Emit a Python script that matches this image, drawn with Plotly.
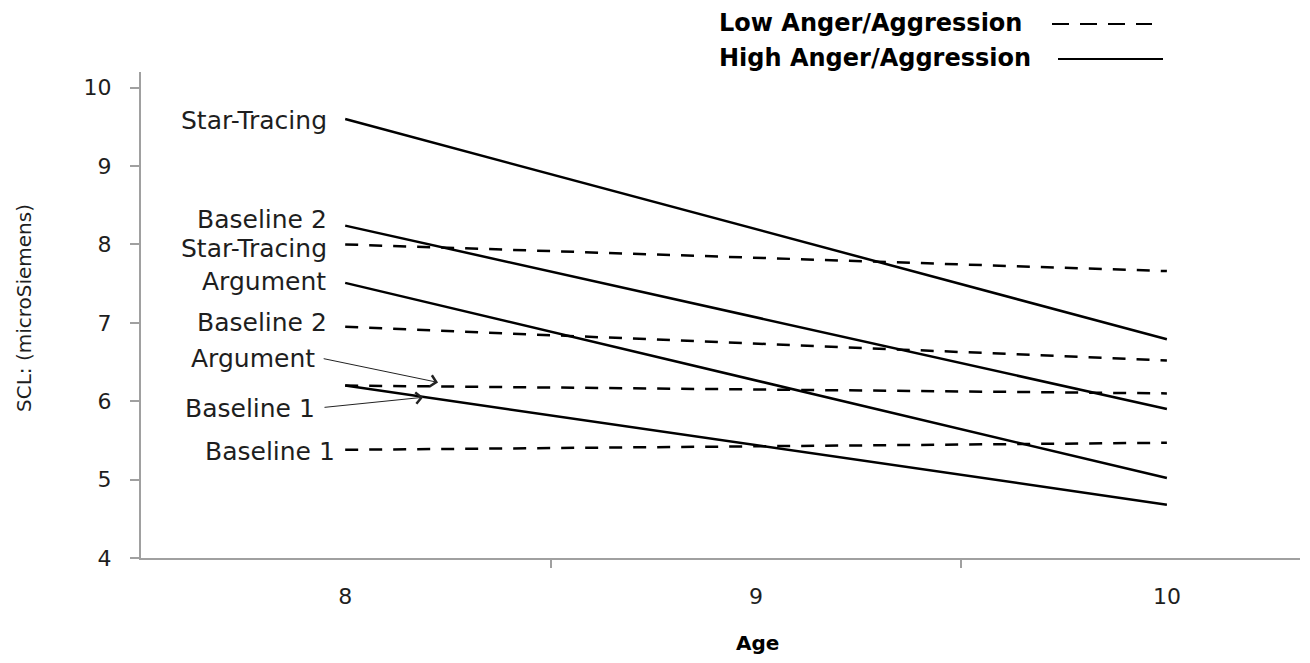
import plotly.graph_objects as go

# ---- data ----
ages = [8, 10]
conditions = ["Star-Tracing", "Baseline 2", "Argument", "Baseline 1"]
high_values = {
    "Star-Tracing": [9.60, 6.79],
    "Baseline 2": [8.24, 5.90],
    "Argument": [7.51, 5.02],
    "Baseline 1": [6.20, 4.68],
}
low_values = {
    "Star-Tracing": [8.00, 7.66],
    "Baseline 2": [6.95, 6.52],
    "Argument": [6.20, 6.10],
    "Baseline 1": [5.38, 5.47],
}
x_ticks = [8, 9, 10]
y_ticks = [4, 5, 6, 7, 8, 9, 10]

FONT = "DejaVu Sans"
TXT = "#1e1e1e"
AX = "#a0a0a0"
FS = 25

# figure is placed at (8, 8) on the page (body margin)
OFF = 8
W, H = 1294, 647
ML, MR, MT, MB = 133, 2, 64, 97


def px_to_paper(sx, sy):
    fx, fy = sx - OFF, sy - OFF
    return (fx - ML) / (W - ML - MR), (H - fy - MB) / (H - MT - MB)


fig = go.Figure()
for c in conditions:
    fig.add_trace(go.Scatter(x=ages, y=high_values[c], mode="lines",
                             line=dict(color="black", width=2.5),
                             name="High " + c, showlegend=False))
for c in conditions:
    fig.add_trace(go.Scatter(x=ages, y=low_values[c], mode="lines",
                             line=dict(color="black", width=2.5, dash="13px,11px"),
                             name="Low " + c, showlegend=False))

# line labels
labels = [
    ("Star-Tracing", 7.961, 9.585),
    ("Baseline 2", 7.961, 8.32),
    ("Star-Tracing", 7.961, 7.95),
    ("Argument", 7.957, 7.53),
    ("Baseline 2", 7.961, 7.00),
    ("Argument", 7.932, 6.54),
    ("Baseline 1", 7.932, 5.91),
    ("Baseline 1", 7.980, 5.36),
]
for t, x, y in labels:
    fig.add_annotation(x=x, y=y, text=t, showarrow=False, xanchor="right",
                       yanchor="middle", font=dict(family=FONT, size=FS, color=TXT))

# arrows
for (hx, hy, tx, ty) in [(8.226, 6.24, 7.944, 6.547), (8.19, 6.05, 7.946, 5.92)]:
    fig.add_annotation(x=hx, y=hy, ax=tx, ay=ty, axref="x", ayref="y", text="",
                       showarrow=True, arrowhead=4, arrowsize=2.2, arrowwidth=1,
                       arrowcolor="#222")

# legend (text followed by line sample)
for txt, sy in [("Low Anger/Aggression", 23), ("High Anger/Aggression", 58)]:
    px, py = px_to_paper(717, sy)
    fig.add_annotation(x=px, y=py, xref="paper", yref="paper", text="<b>" + txt + "</b>",
                       showarrow=False, xanchor="left", yanchor="middle",
                       font=dict(family=FONT, size=24, color="black"))

x0, y0 = px_to_paper(1052, 24)
x1, _ = px_to_paper(1152, 24)
fig.add_shape(type="line", xref="paper", yref="paper", x0=x0, x1=x1, y0=y0, y1=y0,
              line=dict(color="black", width=2, dash="17px,11px"))
x0, y0 = px_to_paper(1058, 59)
x1, _ = px_to_paper(1163, 59)
fig.add_shape(type="line", xref="paper", yref="paper", x0=x0, x1=x1, y0=y0, y1=y0,
              line=dict(color="black", width=2))

# axis titles
px, py = px_to_paper(757, 643)
fig.add_annotation(x=px, y=py, xref="paper", yref="paper", text="<b>Age</b>", showarrow=False,
                   xanchor="center", yanchor="middle", font=dict(family=FONT, size=20, color="black"))
px, py = px_to_paper(24, 308)
fig.add_annotation(x=px, y=py, xref="paper", yref="paper", text="SCL: (microSiemens)",
                   textangle=-90, showarrow=False, xanchor="center", yanchor="middle",
                   font=dict(family=FONT, size=20, color=TXT))

fig.update_layout(
    width=W, height=H,
    margin=dict(l=ML, r=MR, t=MT, b=MB),
    plot_bgcolor="white", paper_bgcolor="white",
    font=dict(family=FONT, size=FS, color=TXT),
    xaxis=dict(range=[7.503, 10.324], tickvals=x_ticks, ticktext=[str(v) for v in x_ticks],
               showgrid=False, zeroline=False, showline=True, linecolor=AX, linewidth=2,
               ticks="", ticklabelstandoff=18,
               minor=dict(tick0=7.5, dtick=1, ticks="outside", ticklen=8, tickcolor=AX, tickwidth=1.5),
               tickfont=dict(family=FONT, size=22, color=TXT)),
    yaxis=dict(range=[4, 10.2], tickvals=y_ticks, showgrid=False, zeroline=False,
               showline=True, linecolor=AX, linewidth=2, ticks="outside", ticklen=9,
               tickcolor=AX, tickwidth=1.5, ticklabelstandoff=14,
               tickfont=dict(family=FONT, size=22, color=TXT)),
)

fig.write_html("out.html")
